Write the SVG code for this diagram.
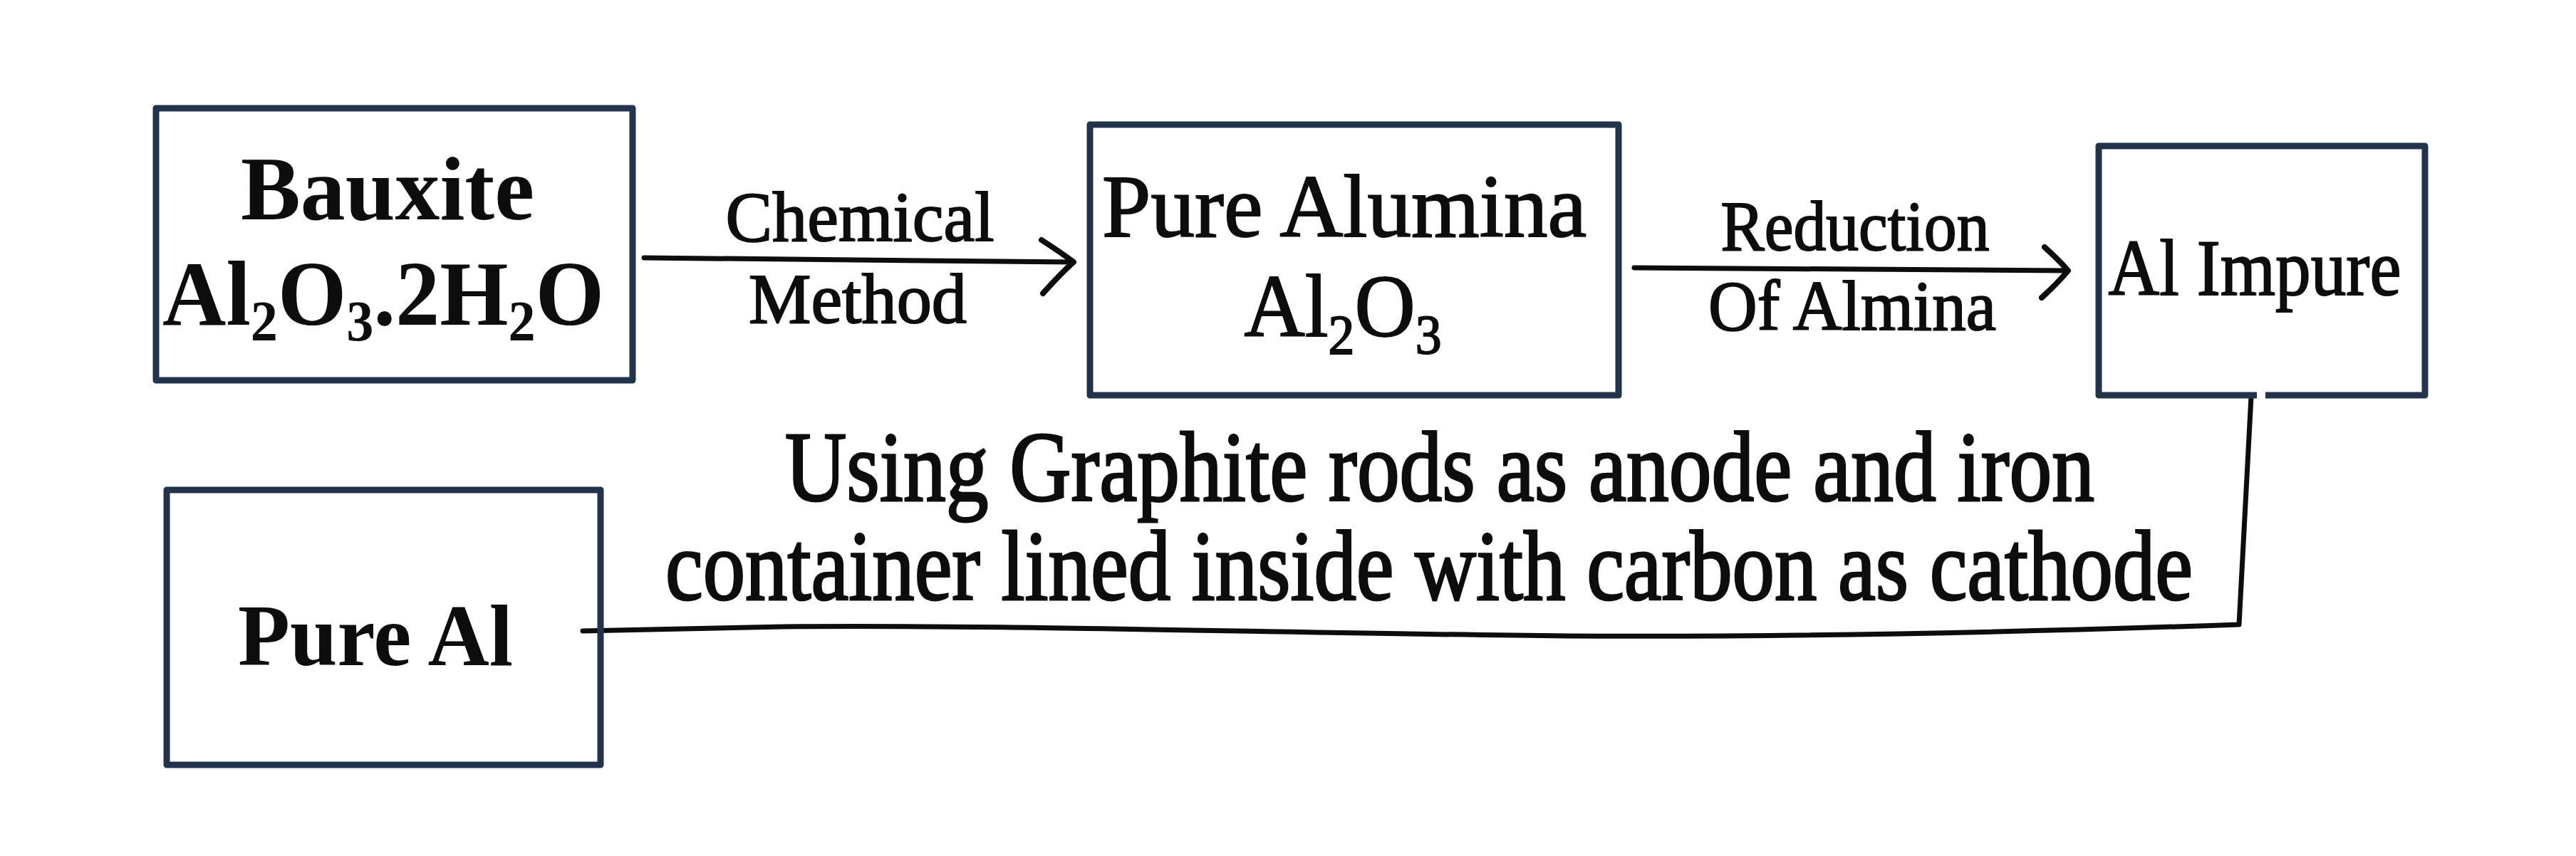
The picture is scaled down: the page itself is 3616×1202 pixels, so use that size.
<svg xmlns="http://www.w3.org/2000/svg" width="3616" height="1202" viewBox="0 0 3616 1202">
<style>
.box{fill:none;stroke:#22344c;stroke-width:9;stroke-linejoin:round}
.ln{fill:none;stroke:#0d0d0d;stroke-width:7;stroke-linecap:round;stroke-linejoin:round}
.head{fill:none;stroke:#0d0d0d;stroke-width:8;stroke-linecap:round;stroke-linejoin:round}
.t{font-family:"Liberation Serif","DejaVu Serif",serif;fill:#0d0d0d;text-anchor:middle}
.b{font-weight:bold}
.s{stroke:#0d0d0d;stroke-width:2}
.s3{stroke:#0d0d0d;stroke-width:3}
</style>
<rect width="3616" height="1202" fill="#ffffff"/>
<g id="connectors">
<path class="ln" d="M904,362 L1504,368"/>
<path class="head" d="M1462,337 Q1490,355 1507,368 Q1490,383 1464,412"/>
<path class="ln" d="M2294,376 L2900,380"/>
<path class="head" d="M2870,347 Q2890,365 2903,380 Q2888,398 2866,418"/>
<path class="ln" d="M3160,557 L3143,877 C2800,889 2500,895 2200,893 C1800,889 1400,877 1100,880 L818,886"/>
<text class="t s3" x="2021" y="703" font-size="140" textLength="1838" lengthAdjust="spacingAndGlyphs">Using Graphite rods as anode and iron</text>
<text class="t s3" x="2006" y="842" font-size="140" textLength="2144" lengthAdjust="spacingAndGlyphs">container lined inside with carbon as cathode</text>
<text class="t s" x="1207" y="338" font-size="100" textLength="377" lengthAdjust="spacingAndGlyphs">Chemical</text>
<text class="t s" x="1204" y="453" font-size="100" textLength="306" lengthAdjust="spacingAndGlyphs">Method</text>
<text class="t s" x="2604" y="351" font-size="100" textLength="377" lengthAdjust="spacingAndGlyphs">Reduction</text>
<text class="t s" x="2600" y="463" font-size="100" textLength="404" lengthAdjust="spacingAndGlyphs">Of Almina</text>
</g>
<g id="bauxite">
<rect class="box" x="219" y="152" width="669" height="382"/>
<text class="t b" x="544" y="308" font-size="128" textLength="412" lengthAdjust="spacingAndGlyphs">Bauxite</text>
<text class="t b" x="538" y="456" font-size="130" textLength="620" lengthAdjust="spacingAndGlyphs">Al<tspan font-size="80" dy="22">2</tspan><tspan dy="-22">O</tspan><tspan font-size="80" dy="22">3</tspan><tspan dy="-22">.2H</tspan><tspan font-size="80" dy="22">2</tspan><tspan dy="-22">O</tspan></text>
</g>
<g id="alumina">
<rect class="box" x="1530" y="175" width="742" height="380"/>
<text class="t s" x="1887" y="332" font-size="125" textLength="680" lengthAdjust="spacingAndGlyphs">Pure Alumina</text>
<text class="t s" x="1885" y="472" font-size="125" textLength="277" lengthAdjust="spacingAndGlyphs">Al<tspan font-size="78" dy="24">2</tspan><tspan dy="-24">O</tspan><tspan font-size="78" dy="24">3</tspan></text>
</g>
<g id="al-impure">
<path class="box" d="M3168,555 L2946,555 L2946,205 L3404,205 L3404,555 L3180,555"/>
<text class="t s" x="3165" y="414" font-size="112" textLength="411" lengthAdjust="spacingAndGlyphs">Al Impure</text>
</g>
<g id="pure-al">
<rect class="box" x="234" y="688" width="609" height="386"/>
<text class="t b" x="527" y="934" font-size="122" textLength="386" lengthAdjust="spacingAndGlyphs">Pure Al</text>
</g>
</svg>
